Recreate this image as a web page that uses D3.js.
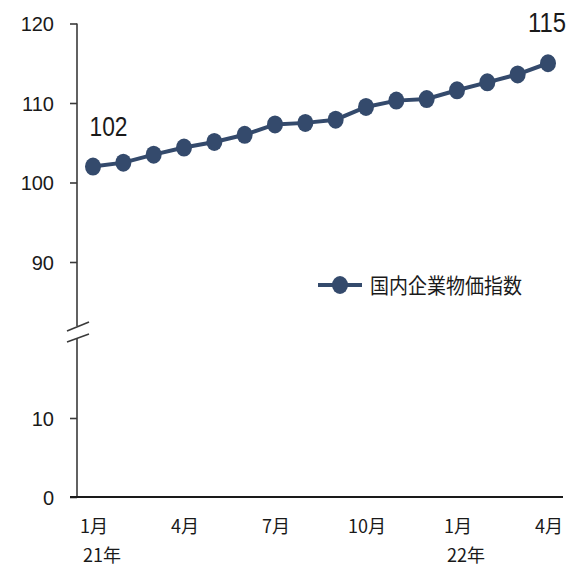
<!DOCTYPE html>
<html>
<head>
<meta charset="utf-8">
<script src="https://cdn.jsdelivr.net/npm/d3@7"></script>
<style>
  html, body { margin: 0; padding: 0; background: #fff; }
  svg { display: block; }
  text { fill: #1a1a1a; }
</style>
</head>
<body>
<svg id="chart" width="572" height="567"></svg>
<script>
// Monthly index values, Jan 2021 – Apr 2022
const months = ["2021-01","2021-02","2021-03","2021-04","2021-05","2021-06","2021-07","2021-08",
                "2021-09","2021-10","2021-11","2021-12","2022-01","2022-02","2022-03","2022-04"];
const indexValues = [102.0, 102.5, 103.5, 104.4, 105.1, 106.0, 107.3, 107.5,
                     107.9, 109.5, 110.3, 110.5, 111.6, 112.6, 113.6, 115.0];
const seriesName = "国内企業物価指数";
const monthTickLabels = ["1月","4月","7月","10月","1月","4月"];
const monthTickIdx = [0, 3, 6, 9, 12, 15];
const yearLabels = [{ idx: 0, text: "21年" }, { idx: 12, text: "22年" }];
const yTicks = [0, 10, 90, 100, 110, 120];
const labelledIdx = [0, 15];

const svg = d3.select("#chart");
const navy = "#344a6c";
const axisX = 77, axisBottom = 497;

// x positions per month
const x = d3.scalePoint().domain(months).range([93, 548]);

// broken y-axis: 0–10 on the bottom segment, 90–120 on the top segment
const y = d3.scaleLinear().domain([0, 10, 90, 120]).range([axisBottom, 418, 262, 23.5]);

// y axis line with a gap for the break
const axisG = svg.append("g").attr("stroke", "#3a3a3a").attr("stroke-width", 1.6).attr("fill", "none");
axisG.append("line").attr("x1", axisX).attr("x2", axisX).attr("y1", y(120)).attr("y2", 326);
axisG.append("line").attr("x1", axisX).attr("x2", axisX).attr("y1", 338).attr("y2", axisBottom);
// break marks
axisG.append("line").attr("x1", 67).attr("y1", 331).attr("x2", 89).attr("y2", 322);
axisG.append("line").attr("x1", 67).attr("y1", 342).attr("x2", 89).attr("y2", 334);

// y ticks and labels
const yAxis = d3.axisLeft(y).tickValues(yTicks).tickSize(7).tickPadding(10).tickFormat(d3.format("d"));
const yG = svg.append("g").attr("transform", `translate(${axisX},0)`).call(yAxis);
yG.select(".domain").remove();
yG.selectAll(".tick line").attr("stroke", "#3a3a3a").attr("stroke-width", 1.6);
yG.selectAll(".tick text")
  .attr("font-family", "'Liberation Sans', Arial, sans-serif")
  .attr("font-size", 20).attr("fill", "#1a1a1a").attr("x", -23).attr("dy", "0.36em");

// x axis baseline
svg.append("line").attr("x1", 70).attr("x2", 563).attr("y1", axisBottom).attr("y2", axisBottom)
  .attr("stroke", "#1a1a1a").attr("stroke-width", 2);

// month labels
const cjk = "'Noto Sans CJK JP', 'Noto Sans', sans-serif";
svg.append("g").selectAll("text").data(monthTickIdx).join("text")
  .attr("x", i => x(months[i]) + 1).attr("y", 533)
  .attr("text-anchor", "middle").attr("font-family", cjk).attr("font-size", 18)
  .text((i, k) => monthTickLabels[k]);

svg.append("g").selectAll("text").data(yearLabels).join("text")
  .attr("x", d => x(months[d.idx]) - 10).attr("y", 562)
  .attr("text-anchor", "start").attr("font-family", cjk).attr("font-size", 18)
  .text(d => d.text);

// series line and markers
const pts = months.map((m, i) => ({ m, v: indexValues[i], i }));
svg.append("path").datum(pts)
  .attr("fill", "none").attr("stroke", navy).attr("stroke-width", 4)
  .attr("d", d3.line().x(d => x(d.m)).y(d => y(d.v)));

svg.append("g").selectAll("ellipse").data(pts).join("ellipse")
  .attr("cx", d => x(d.m)).attr("cy", d => y(d.v))
  .attr("rx", 8).attr("ry", 9).attr("fill", navy);

// value labels for first and last points
svg.append("g").selectAll("text").data(labelledIdx.map(i => pts[i])).join("text")
  .attr("x", d => d.i === 0 ? x(d.m) + 15.5 : x(d.m) - 1)
  .attr("y", d => y(d.v) - 31)
  .attr("text-anchor", "middle")
  .attr("font-family", "'Liberation Sans', Arial, sans-serif")
  .attr("font-size", 28)
  .attr("textLength", 38).attr("lengthAdjust", "spacingAndGlyphs")
  .text(d => d3.format(".0f")(d.v));

// legend
const lg = svg.append("g").attr("transform", "translate(318,285)");
lg.append("line").attr("x1", 0).attr("x2", 44).attr("stroke", navy).attr("stroke-width", 4);
lg.append("ellipse").attr("cx", 22).attr("rx", 8).attr("ry", 9).attr("fill", navy);
lg.append("text").attr("x", 52).attr("dy", "0.36em")
  .attr("font-family", cjk).attr("font-size", 21)
  .attr("textLength", 152).attr("lengthAdjust", "spacingAndGlyphs")
  .text(seriesName);
</script>
</body>
</html>
